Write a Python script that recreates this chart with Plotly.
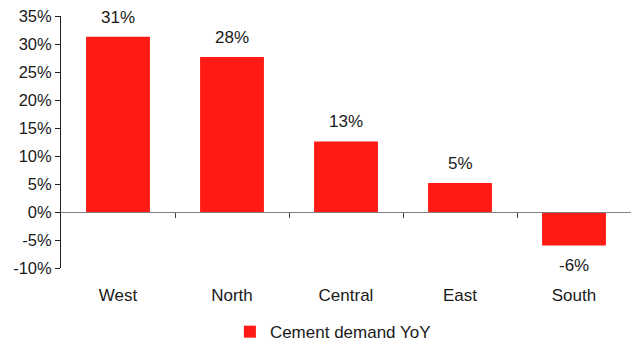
import plotly.graph_objects as go

categories = ["West", "North", "Central", "East", "South"]
values = [31.3, 27.7, 12.6, 5.2, -6.0]
labels = ["31%", "28%", "13%", "5%", "-6%"]
series_name = "Cement demand YoY"
y_ticks = [-10, -5, 0, 5, 10, 15, 20, 25, 30, 35]

ymin, ymax = -10, 35
fam = "Liberation Sans, Arial, sans-serif"
font = dict(family=fam, size=17, color="#1a1a1a")
yfont = dict(family=fam, size=16.5, color="#1a1a1a")

fig = go.Figure()
fig.add_trace(go.Bar(
    x=list(range(len(categories))), y=values, name=series_name,
    marker=dict(color="#FF1A14", line=dict(width=0)),
    width=0.56, xaxis="x", yaxis="y",
))

for i, (v, t) in enumerate(zip(values, labels)):
    fig.add_annotation(
        x=i, y=v, text=t, showarrow=False, xref="x", yref="y",
        yanchor="bottom" if v >= 0 else "top",
        yshift=8 if v >= 0 else -8, font=font,
    )

zero_pos = (0 - ymin) / (ymax - ymin)

fig.update_layout(
    width=632, height=342,
    margin=dict(l=61, r=1, t=16, b=74, autoexpand=False),
    paper_bgcolor="white", plot_bgcolor="white",
    font=font, showlegend=True,
    legend=dict(orientation="h", x=0.477, xanchor="center",
                y=-0.183, yanchor="top",
                font=font, itemwidth=30, bgcolor="rgba(0,0,0,0)"),
    xaxis=dict(
        range=[-0.5, len(categories) - 0.5], anchor="free", position=zero_pos,
        showline=True, linecolor="#808080", linewidth=1,
        tickmode="array", tickvals=[i + 0.5 for i in range(len(categories) - 1)],
        ticks="outside", ticklen=5, tickcolor="#404040",
        showticklabels=False, showgrid=False, zeroline=False, automargin=False,
    ),
    xaxis2=dict(
        range=[-0.5, len(categories) - 0.5], overlaying="x", side="bottom",
        anchor="y", tickmode="array", tickvals=list(range(len(categories))),
        ticktext=categories, ticks="", showline=False, showgrid=False,
        zeroline=False, ticklabelstandoff=15, tickfont=font, automargin=False,
    ),
    yaxis=dict(
        range=[ymin, ymax], tickmode="array", tickvals=y_ticks,
        ticktext=[f"{t}%" for t in y_ticks],
        showline=True, linecolor="#202020", linewidth=1,
        ticks="outside", ticklen=5, tickcolor="#202020",
        showgrid=False, zeroline=False, tickfont=yfont, automargin=False,
    ),
    bargap=0.44,
)
# invisible trace to activate xaxis2
fig.add_trace(go.Scatter(x=[0], y=[0], xaxis="x2", yaxis="y", mode="markers",
                         marker=dict(opacity=0), showlegend=False, hoverinfo="skip"))

fig.write_html("out.html")
